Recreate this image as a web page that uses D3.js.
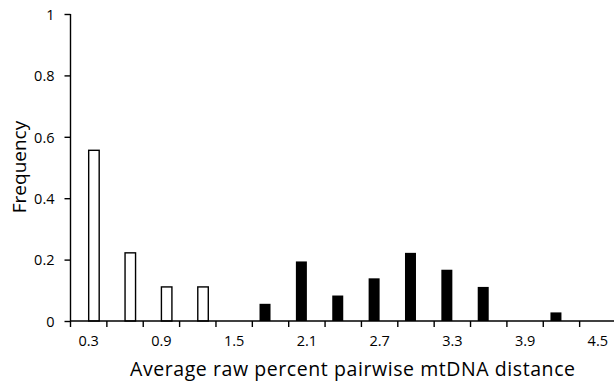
<!DOCTYPE html>
<html>
<head>
<meta charset="utf-8">
<script src="https://cdn.jsdelivr.net/npm/d3@7"></script>
<style>
  html, body { margin: 0; padding: 0; background: #fff; }
  svg { display: block; }
  text { font-family: "Open Sans", "Noto Sans", sans-serif; fill: #000; }
</style>
</head>
<body>
<svg id="chart" width="614" height="383"></svg>
<script>
// Distance classes (raw percent pairwise mtDNA distance)
const categories = ["0.3","0.6","0.9","1.2","1.5","1.8","2.1","2.4","2.7","3.0","3.3","3.6","3.9","4.2","4.5"];
// Filled (black) series
const blackValues = [0, 0, 0, 0, 0, 0.056, 0.194, 0.083, 0.139, 0.222, 0.167, 0.111, 0, 0.028, 0];
// Open (white) series
const whiteValues = [0.556, 0.222, 0.111, 0.111, 0, 0, 0, 0, 0, 0, 0, 0, 0, 0, 0];
const xTickLabels = ["0.3","0.9","1.5","2.1","2.7","3.3","3.9","4.5"];
const yTicks = [0, 0.2, 0.4, 0.6, 0.8, 1];
const xTitle = "Average raw percent pairwise mtDNA distance";
const yTitle = "Frequency";

const svg = d3.select("#chart");
const mLeft = 70.5, mRight = 616, mTop = 14, mBottom = 321;

const x = d3.scaleBand().domain(categories).range([mLeft, mRight]).paddingInner(0).paddingOuter(0);
const sub = d3.scaleBand().domain(["black","white"]).range([x.bandwidth()/2 - 11, x.bandwidth()/2 + 11]);
const y = d3.scaleLinear().domain([0, 1]).range([mBottom, mTop]);

// Bars
const g = svg.append("g");
g.selectAll("rect.black").data(categories.map((c,i)=>({c, v: blackValues[i]})).filter(d=>d.v>0))
  .join("rect").attr("class","black")
  .attr("x", d => x(d.c) + sub("black"))
  .attr("width", sub.bandwidth())
  .attr("y", d => y(d.v))
  .attr("height", d => y(0) - y(d.v))
  .attr("fill", "#000");
g.selectAll("rect.white").data(categories.map((c,i)=>({c, v: whiteValues[i]})).filter(d=>d.v>0))
  .join("rect").attr("class","white")
  .attr("x", d => x(d.c) + sub("white"))
  .attr("width", sub.bandwidth() - 0.5)
  .attr("y", d => y(d.v))
  .attr("height", d => y(0) - y(d.v))
  .attr("fill", "#fff").attr("stroke", "#000").attr("stroke-width", 1.4);

// Y axis
const yAxis = d3.axisLeft(y).tickValues(yTicks).tickSize(6).tickPadding(10)
  .tickFormat(d => d3.format("~g")(d));
const yg = svg.append("g").attr("transform", `translate(${mLeft},0)`).call(yAxis);
yg.attr("font-family", null).attr("font-size", null);
yg.select(".domain").attr("d", `M0,${mTop}V${mBottom}`).attr("stroke-width", 1.4);
yg.selectAll(".tick line").attr("stroke-width", 1.4);
yg.selectAll(".tick text").style("font-size", "14.5px").attr("dy", "0.36em");

// X axis: ticks at band boundaries
const xg = svg.append("g").attr("transform", `translate(0,${mBottom})`);
xg.append("line").attr("x1", mLeft).attr("x2", mRight).attr("stroke", "#000").attr("stroke-width", 1.4);
const boundaries = categories.map(c => x(c)).concat([x(categories[categories.length-1]) + x.bandwidth()]);
xg.selectAll("line.tk").data(boundaries).join("line").attr("class","tk")
  .attr("x1", d => d).attr("x2", d => d).attr("y1", 0).attr("y2", 6)
  .attr("stroke", "#000").attr("stroke-width", 1.4);
xg.selectAll("text.lbl").data(xTickLabels).join("text").attr("class","lbl")
  .attr("x", d => x(d) + x.bandwidth()/2).attr("y", 25)
  .attr("text-anchor", "middle").style("font-size", "14.5px").text(d => d);

// Titles
svg.append("text").attr("x", 352.5).attr("y", 376).attr("text-anchor", "middle")
  .style("font-size", "19.5px").attr("textLength", 445).attr("lengthAdjust", "spacing").text(xTitle);
svg.append("text").attr("transform", "translate(26,167) rotate(-90)").attr("text-anchor", "middle")
  .style("font-size", "19px").text(yTitle);
</script>
</body>
</html>
